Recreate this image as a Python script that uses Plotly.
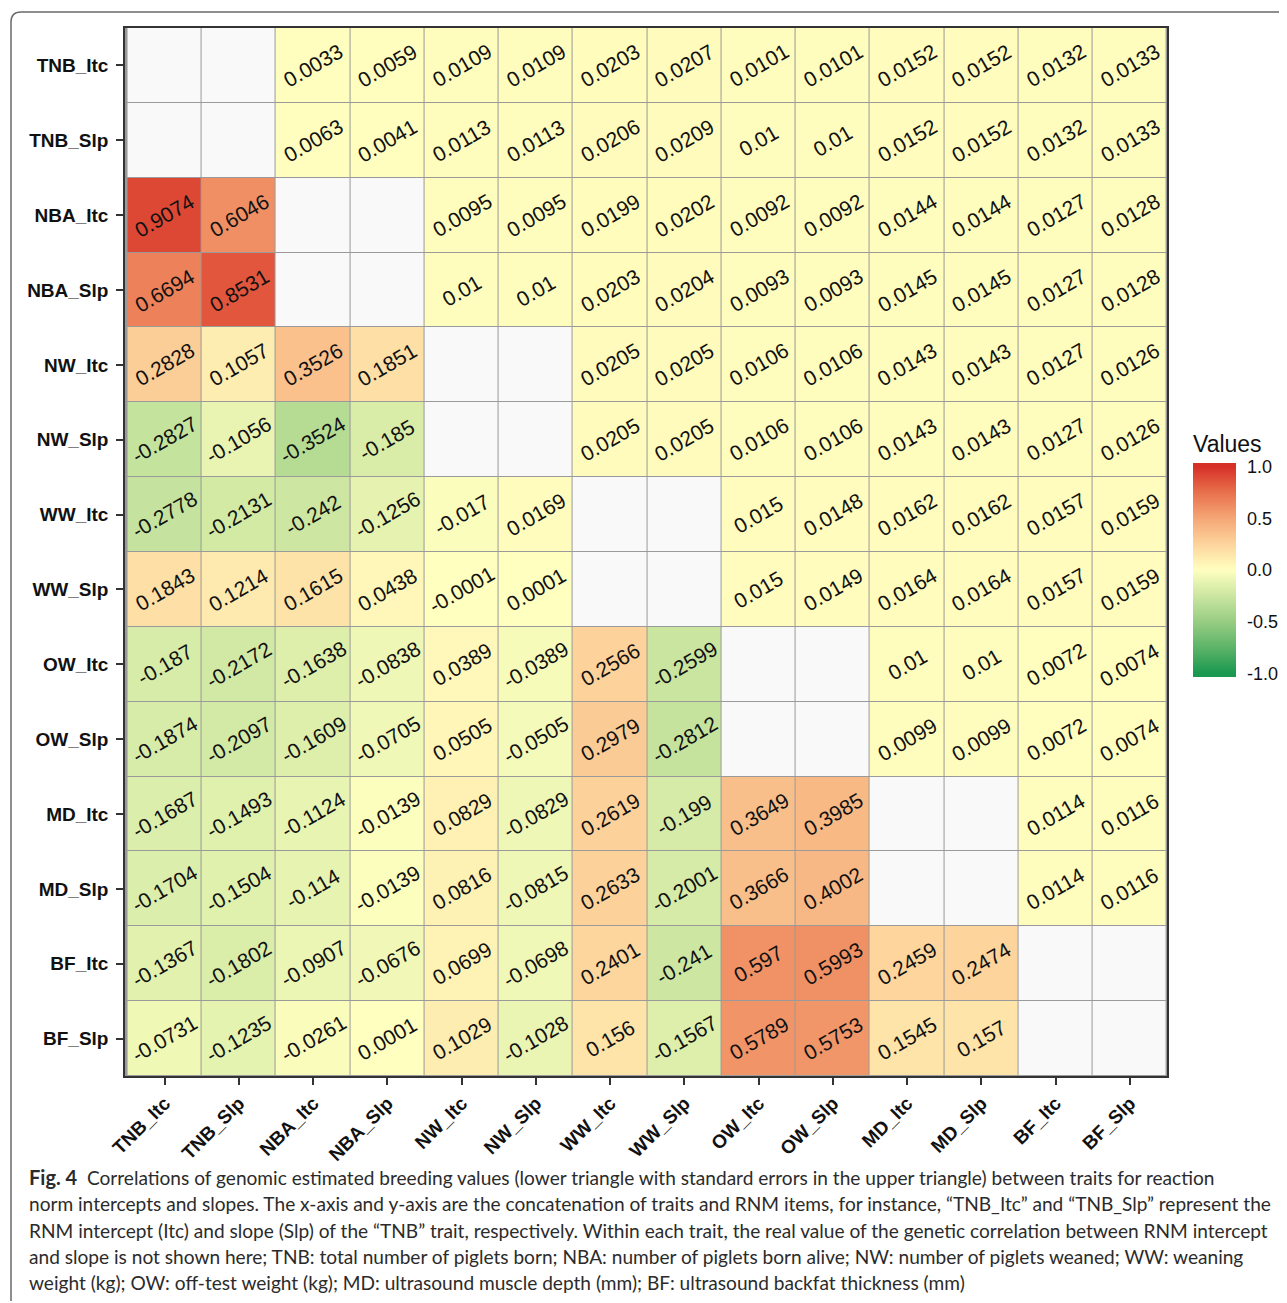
import plotly.graph_objects as go

labels = ["TNB_Itc", "TNB_Slp", "NBA_Itc", "NBA_Slp", "NW_Itc", "NW_Slp", "WW_Itc",
          "WW_Slp", "OW_Itc", "OW_Slp", "MD_Itc", "MD_Slp", "BF_Itc", "BF_Slp"]
N = None
row_TNB_Itc = [N, N, 0.0033, 0.0059, 0.0109, 0.0109, 0.0203, 0.0207, 0.0101, 0.0101, 0.0152, 0.0152, 0.0132, 0.0133]
row_TNB_Slp = [N, N, 0.0063, 0.0041, 0.0113, 0.0113, 0.0206, 0.0209, 0.01, 0.01, 0.0152, 0.0152, 0.0132, 0.0133]
row_NBA_Itc = [0.9074, 0.6046, N, N, 0.0095, 0.0095, 0.0199, 0.0202, 0.0092, 0.0092, 0.0144, 0.0144, 0.0127, 0.0128]
row_NBA_Slp = [0.6694, 0.8531, N, N, 0.01, 0.01, 0.0203, 0.0204, 0.0093, 0.0093, 0.0145, 0.0145, 0.0127, 0.0128]
row_NW_Itc = [0.2828, 0.1057, 0.3526, 0.1851, N, N, 0.0205, 0.0205, 0.0106, 0.0106, 0.0143, 0.0143, 0.0127, 0.0126]
row_NW_Slp = [-0.2827, -0.1056, -0.3524, -0.185, N, N, 0.0205, 0.0205, 0.0106, 0.0106, 0.0143, 0.0143, 0.0127, 0.0126]
row_WW_Itc = [-0.2778, -0.2131, -0.242, -0.1256, -0.017, 0.0169, N, N, 0.015, 0.0148, 0.0162, 0.0162, 0.0157, 0.0159]
row_WW_Slp = [0.1843, 0.1214, 0.1615, 0.0438, -0.0001, 0.0001, N, N, 0.015, 0.0149, 0.0164, 0.0164, 0.0157, 0.0159]
row_OW_Itc = [-0.187, -0.2172, -0.1638, -0.0838, 0.0389, -0.0389, 0.2566, -0.2599, N, N, 0.01, 0.01, 0.0072, 0.0074]
row_OW_Slp = [-0.1874, -0.2097, -0.1609, -0.0705, 0.0505, -0.0505, 0.2979, -0.2812, N, N, 0.0099, 0.0099, 0.0072, 0.0074]
row_MD_Itc = [-0.1687, -0.1493, -0.1124, -0.0139, 0.0829, -0.0829, 0.2619, -0.199, 0.3649, 0.3985, N, N, 0.0114, 0.0116]
row_MD_Slp = [-0.1704, -0.1504, -0.114, -0.0139, 0.0816, -0.0815, 0.2633, -0.2001, 0.3666, 0.4002, N, N, 0.0114, 0.0116]
row_BF_Itc = [-0.1367, -0.1802, -0.0907, -0.0676, 0.0699, -0.0698, 0.2401, -0.241, 0.597, 0.5993, 0.2459, 0.2474, N, N]
row_BF_Slp = [-0.0731, -0.1235, -0.0261, 0.0001, 0.1029, -0.1028, 0.156, -0.1567, 0.5789, 0.5753, 0.1545, 0.157, N, N]

z = [row_TNB_Itc, row_TNB_Slp, row_NBA_Itc, row_NBA_Slp, row_NW_Itc, row_NW_Slp, row_WW_Itc,
     row_WW_Slp, row_OW_Itc, row_OW_Slp, row_MD_Itc, row_MD_Slp, row_BF_Itc, row_BF_Slp]

colorbar_ticks = [-1, -0.5, 0, 0.5, 1]
colorbar_ticktext = ["-1.0", "-0.5", "0.0", "0.5", "1.0"]

caption_lines = [
    "<span style='font-size:20px'><b>Fig. 4</b></span>  Correlations of genomic estimated breeding values (lower triangle with standard errors in the upper triangle) between traits for reaction",
    "norm intercepts and slopes. The x-axis and y-axis are the concatenation of traits and RNM items, for instance, \u201cTNB_Itc\u201d and \u201cTNB_Slp\u201d represent the",
    "RNM intercept (Itc) and slope (Slp) of the \u201cTNB\u201d trait, respectively. Within each trait, the real value of the genetic correlation between RNM intercept",
    "and slope is not shown here; TNB: total number of piglets born; NBA: number of piglets born alive; NW: number of piglets weaned; WW: weaning",
    "weight (kg); OW: off-test weight (kg); MD: ultrasound muscle depth (mm); BF: ultrasound backfat thickness (mm)",
]

# page body has an 8px margin: work in reference pixel coordinates and shift
OFF = 8
W, H = 1287 - OFF, 1303 - OFF
L, R, T, B = 125, 1167, 28, 1076  # plot area in reference pixels


def px(x):
    return (x - L) / (R - L)


def py(y):
    return (B - y) / (B - T)


ZMIN, ZMAX = -1.035, 1.035
stops = [(-1, '#1A9850'), (-0.75, '#5DB468'), (-0.5, '#97CD82'), (-0.25, '#CBE6A1'),
         (0, '#FFFFBF'), (0.25, '#FDD49C'), (0.5, '#F5A676'), (0.75, '#E8704C'), (1, '#D73027')]
colorscale = [[0, stops[0][1]]]
for v, c in stops:
    colorscale.append([(v - ZMIN) / (ZMAX - ZMIN), c])
colorscale.append([1, stops[-1][1]])

na_z = [[1 if v is None else None for v in row] for row in z]

fig = go.Figure()
fig.add_trace(go.Heatmap(
    x=labels, y=labels, z=z, zmin=ZMIN, zmax=ZMAX, colorscale=colorscale,
    xgap=1, ygap=1, hoverongaps=False,
    colorbar=dict(
        title=dict(text="Values", side="top", font=dict(size=23, family="Liberation Sans, Arial", color="#111")),
        x=px(1193), xanchor="left", xpad=0, ypad=0,
        y=py(677), yanchor="bottom",
        thickness=43, len=245, lenmode="pixels",
        tickvals=colorbar_ticks, ticktext=colorbar_ticktext,
        ticks="outside", ticklen=8, tickcolor="rgba(0,0,0,0)", tickwidth=1,
        tickfont=dict(size=18, family="Liberation Sans, Arial", color="#111"),
        outlinewidth=0,
    ),
))
fig.add_trace(go.Heatmap(
    x=labels, y=labels, z=na_z, zmin=0, zmax=1,
    colorscale=[[0, '#F9F9F9'], [1, '#F9F9F9']], showscale=False,
    xgap=1, ygap=1, hoverongaps=False,
))


def fmt(v):
    return f"{v:.4f}".rstrip('0').rstrip('.')


annotations = []
for i, row in enumerate(z):
    for j, v in enumerate(row):
        if v is None:
            continue
        annotations.append(dict(
            x=labels[j], y=labels[i], xref="x", yref="y", text=fmt(v),
            showarrow=False, textangle=-30,
            font=dict(size=21, family="Liberation Sans, Arial", color="#111"),
        ))

line_y = [1177, 1203, 1230, 1256, 1282]
for txt, yy in zip(caption_lines, line_y):
    annotations.append(dict(
        x=px(27), y=py(yy), xref="paper", yref="paper", xanchor="left", yanchor="middle",
        text=txt, showarrow=False, align="left",
        font=dict(size=19.1, family="Lato, Open Sans, sans-serif", color="#2b2b2b"),
    ))

r = 10
path = (f"M {px(11)} {py(1301)} L {px(11)} {py(12 + r)} "
        f"Q {px(11)} {py(12)} {px(11 + r)} {py(12)} L {px(1300)} {py(12)}")

fig.update_layout(
    width=W, height=H,
    margin=dict(l=L - OFF, r=W - (R - OFF), t=T - OFF, b=H - (B - OFF), autoexpand=False),
    paper_bgcolor="white", plot_bgcolor="#9a9a9a",
    annotations=annotations,
    shapes=[dict(type="path", xref="paper", yref="paper", path=path,
                 line=dict(color="#6a6a6a", width=1.5))],
    xaxis=dict(
        type="category", categoryorder="array", categoryarray=labels,
        tickangle=-45, ticks="outside", ticklen=7, tickwidth=1.5, tickcolor="#333",
        tickfont=dict(size=19, family="Liberation Sans, Arial", color="#111", weight="bold"),
        showline=True, mirror=True, linecolor="#333", linewidth=1.5,
        showgrid=False, zeroline=False, automargin=False,
    ),
    yaxis=dict(
        type="category", categoryorder="array", categoryarray=labels,
        autorange="reversed", ticks="outside", ticklen=7, tickwidth=1.5, tickcolor="#333",
        tickfont=dict(size=19, family="Liberation Sans, Arial", color="#111", weight="bold"),
        showline=True, mirror=True, linecolor="#333", linewidth=1.5,
        showgrid=False, zeroline=False, ticklabelstandoff=4, automargin=False,
    ),
)

fig.write_html("out.html")
